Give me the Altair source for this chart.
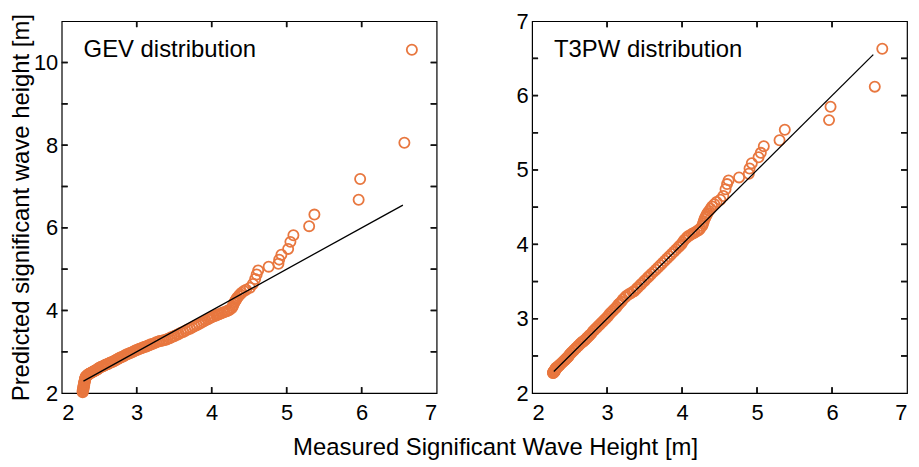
import altair as alt
import pandas as pd

# Measured significant wave height (sorted), shared by both panels
measured = [
    2.28, 2.28, 2.28, 2.29, 2.29, 2.29, 2.29, 2.29, 2.30, 2.30, 2.30, 2.30, 2.30, 2.31, 2.31, 2.31, 2.31, 2.32, 2.32, 2.32,
    2.33, 2.34, 2.35, 2.35, 2.36, 2.37, 2.38, 2.39, 2.40, 2.41, 2.42, 2.43, 2.44, 2.45, 2.46, 2.47, 2.48, 2.49,
    2.50, 2.52, 2.53, 2.55, 2.56, 2.58, 2.59, 2.61, 2.62, 2.64, 2.65, 2.67, 2.68, 2.70, 2.71, 2.73, 2.74, 2.76, 2.77, 2.79,
    2.81, 2.83, 2.85, 2.87, 2.89, 2.91, 2.93, 2.95, 2.97, 2.99, 3.01, 3.03, 3.05, 3.07, 3.09, 3.11, 3.13, 3.15, 3.17, 3.19,
    3.21, 3.24, 3.26, 3.29, 3.31, 3.34, 3.36, 3.39, 3.41, 3.44, 3.46, 3.49, 3.51, 3.54, 3.56, 3.59,
    3.62, 3.65, 3.68, 3.71, 3.74, 3.77, 3.80, 3.83, 3.86, 3.89, 3.92, 3.95, 3.97, 3.99,
    4.01, 4.03, 4.06, 4.08, 4.10, 4.13, 4.15, 4.17, 4.20, 4.22, 4.24, 4.27,
    4.28, 4.29, 4.30, 4.31, 4.32, 4.33, 4.34, 4.36, 4.38, 4.40, 4.43, 4.46,
    4.51, 4.55, 4.58, 4.60, 4.62, 4.76, 4.89, 4.90, 4.93, 5.02, 5.05, 5.09, 5.30, 5.37,
    5.96, 5.98, 6.57, 6.67,
]

# Predicted by GEV distribution
gev_pred = [
    2.02, 2.04, 2.07, 2.09, 2.11, 2.13, 2.15, 2.17, 2.19, 2.21, 2.23, 2.25, 2.27, 2.29, 2.31, 2.33, 2.35, 2.37, 2.38, 2.40,
    2.41, 2.43, 2.44, 2.45, 2.46, 2.47, 2.48, 2.49, 2.50, 2.51, 2.52, 2.53, 2.54, 2.55, 2.56, 2.57, 2.58, 2.60,
    2.61, 2.63, 2.64, 2.65, 2.66, 2.68, 2.69, 2.70, 2.71, 2.73, 2.74, 2.75, 2.76, 2.78, 2.79, 2.81, 2.82, 2.84, 2.85, 2.87,
    2.88, 2.90, 2.92, 2.94, 2.95, 2.97, 2.98, 3.00, 3.02, 3.04, 3.05, 3.07, 3.08, 3.09, 3.11, 3.12, 3.13, 3.15, 3.16, 3.18,
    3.19, 3.21, 3.23, 3.25, 3.26, 3.27, 3.28, 3.29, 3.31, 3.33, 3.35, 3.37, 3.39, 3.41, 3.43, 3.46,
    3.48, 3.51, 3.54, 3.56, 3.59, 3.62, 3.64, 3.67, 3.70, 3.73, 3.76, 3.79, 3.81, 3.83,
    3.85, 3.86, 3.88, 3.90, 3.91, 3.93, 3.95, 3.96, 3.98, 4.00, 4.02, 4.06,
    4.10, 4.14, 4.18, 4.22, 4.25, 4.28, 4.31, 4.35, 4.39, 4.43, 4.47, 4.50,
    4.55, 4.64, 4.76, 4.87, 4.97, 5.06, 5.13, 5.23, 5.35, 5.49, 5.66, 5.82, 6.04, 6.32,
    6.68, 7.18, 8.06, 10.31,
]

# Predicted by T3PW distribution
t3pw_pred = [
    2.27, 2.27, 2.28, 2.28, 2.28, 2.29, 2.29, 2.29, 2.29, 2.30, 2.30, 2.30, 2.31, 2.31, 2.31, 2.32, 2.32, 2.33, 2.33, 2.34,
    2.34, 2.35, 2.36, 2.36, 2.37, 2.38, 2.39, 2.40, 2.41, 2.42, 2.43, 2.44, 2.45, 2.46, 2.47, 2.48, 2.49, 2.50,
    2.52, 2.54, 2.55, 2.57, 2.58, 2.60, 2.61, 2.63, 2.64, 2.66, 2.67, 2.69, 2.69, 2.71, 2.72, 2.74, 2.75, 2.77, 2.78, 2.80,
    2.83, 2.85, 2.87, 2.89, 2.91, 2.93, 2.95, 2.97, 2.99, 3.01, 3.03, 3.06, 3.08, 3.10, 3.12, 3.14, 3.16, 3.19, 3.21, 3.23,
    3.26, 3.29, 3.31, 3.33, 3.34, 3.36, 3.37, 3.40, 3.42, 3.45, 3.47, 3.50, 3.52, 3.55, 3.57, 3.60,
    3.63, 3.66, 3.69, 3.72, 3.75, 3.78, 3.81, 3.84, 3.87, 3.90, 3.93, 3.96, 3.98, 4.00,
    4.03, 4.06, 4.09, 4.11, 4.12, 4.14, 4.15, 4.16, 4.18, 4.19, 4.21, 4.25,
    4.28, 4.31, 4.34, 4.36, 4.38, 4.40, 4.42, 4.45, 4.48, 4.51, 4.54, 4.57,
    4.60, 4.65, 4.74, 4.81, 4.86, 4.90, 4.95, 5.02, 5.09, 5.17, 5.23, 5.32, 5.40, 5.54,
    5.67, 5.85, 6.12, 6.63,
]

line_ends = [2.29, 6.55]          # 1:1 reference line
x_domain = [2, 7]
x_labels = [2, 3, 4, 5, 6, 7]
x_ticks = [3, 4, 5, 6]
gev_domain = [2, 11]
gev_labels = [2, 4, 6, 8, 10]
gev_ticks = [3, 4, 5, 6, 7, 8, 9, 10]
t3pw_domain = [2, 7]
t3pw_labels = [2, 3, 4, 5, 6, 7]
t3pw_ticks = [2.5, 3, 3.5, 4, 4.5, 5, 5.5, 6, 6.5]

ORANGE = "#E8773F"
FONT = "Liberation Sans"
W, H = 377, 374
TK = 6


def panel(pred, ydom, ylabels, yticks, label, ytitle):
    xs = alt.Scale(domain=x_domain, nice=False, zero=False, padding=0)
    ys = alt.Scale(domain=ydom, nice=False, zero=False, padding=0)
    x_axis = alt.Axis(values=x_labels, title=None, labelPadding=10)
    if ytitle:
        y_axis = alt.Axis(values=ylabels, title=ytitle, labelPadding=4, titlePadding=0)
    else:
        y_axis = alt.Axis(values=ylabels, title=None, labelPadding=4)

    pts = alt.Chart(pd.DataFrame({"x": measured, "y": pred})).mark_point(
        filled=False, color=ORANGE, size=105, strokeWidth=1.8, opacity=1
    ).encode(
        x=alt.X("x:Q", scale=xs, axis=x_axis),
        y=alt.Y("y:Q", scale=ys, axis=y_axis),
    )
    line = alt.Chart(pd.DataFrame({"x": line_ends, "y": line_ends})).mark_line(
        color="black", strokeWidth=1.3
    ).encode(x=alt.X("x:Q", axis=None), y=alt.Y("y:Q", axis=None))

    # inward tick marks on all four sides of the frame
    ydf = pd.DataFrame({"v": yticks, "lo": [x_domain[0]] * len(yticks),
                        "hi": [x_domain[1]] * len(yticks)})
    xdf = pd.DataFrame({"v": x_ticks, "lo": [ydom[0]] * len(x_ticks),
                        "hi": [ydom[1]] * len(x_ticks)})
    st = dict(color="#111111", strokeWidth=1.5)
    yl = alt.Chart(ydf).mark_rule(**st).encode(
        y=alt.Y("v:Q", axis=None), x=alt.value(0), x2=alt.value(TK))
    yr = alt.Chart(ydf).mark_rule(**st).encode(
        y=alt.Y("v:Q", axis=None), x=alt.value(W - TK), x2=alt.value(W))
    xb = alt.Chart(xdf).mark_rule(**st).encode(
        x=alt.X("v:Q", axis=None), y=alt.value(H - TK), y2=alt.value(H))
    xt = alt.Chart(xdf).mark_rule(**st).encode(
        x=alt.X("v:Q", axis=None), y=alt.value(0), y2=alt.value(TK))

    # the same ticks as short path symbols anchored on the frame edges
    sym = dict(filled=False, color="#111111", strokeWidth=1.5, opacity=1,
               size=(2 * TK) ** 2)
    syl = alt.Chart(ydf).mark_point(shape="M0,0L1,0", **sym).encode(
        x=alt.X("lo:Q", axis=None), y=alt.Y("v:Q", axis=None))
    syr = alt.Chart(ydf).mark_point(shape="M0,0L-1,0", **sym).encode(
        x=alt.X("hi:Q", axis=None), y=alt.Y("v:Q", axis=None))
    sxb = alt.Chart(xdf).mark_point(shape="M0,0L0,-1", **sym).encode(
        x=alt.X("v:Q", axis=None), y=alt.Y("lo:Q", axis=None))
    sxt = alt.Chart(xdf).mark_point(shape="M0,0L0,1", **sym).encode(
        x=alt.X("v:Q", axis=None), y=alt.Y("hi:Q", axis=None))

    txt = alt.Chart(pd.DataFrame({"t": [label]})).mark_text(
        align="left", baseline="middle", font=FONT, fontSize=24, color="black"
    ).encode(text="t:N", x=alt.value(22), y=alt.value(29))

    return alt.layer(pts, line, yl, yr, xb, xt, syl, syr, sxb, sxt, txt).resolve_axis(
        x="independent", y="independent"
    ).properties(width=W, height=H)


left = panel(gev_pred, gev_domain, gev_labels, gev_ticks, "GEV distribution",
             "Predicted significant wave height [m]")
right = panel(t3pw_pred, t3pw_domain, t3pw_labels, t3pw_ticks, "T3PW distribution", None)

chart = alt.hconcat(left, right, spacing=75).properties(
    title=alt.TitleParams(
        "Measured Significant Wave Height [m]", orient="bottom", anchor="middle",
        font=FONT, fontSize=24, fontWeight="normal", color="black", offset=12, dx=36,
    ),
    padding={"left": 0, "top": 0, "right": 0, "bottom": 0},
).configure_view(stroke="black", strokeWidth=1.2).configure_axis(
    domain=False, grid=False, ticks=False, tickSize=0,
    labelFont=FONT, labelFontSize=22, labelColor="black",
    titleFont=FONT, titleFontSize=24, titleFontWeight="normal", titleColor="black",
)

chart.save("out.html", embed_options={"renderer": "svg", "actions": False})
